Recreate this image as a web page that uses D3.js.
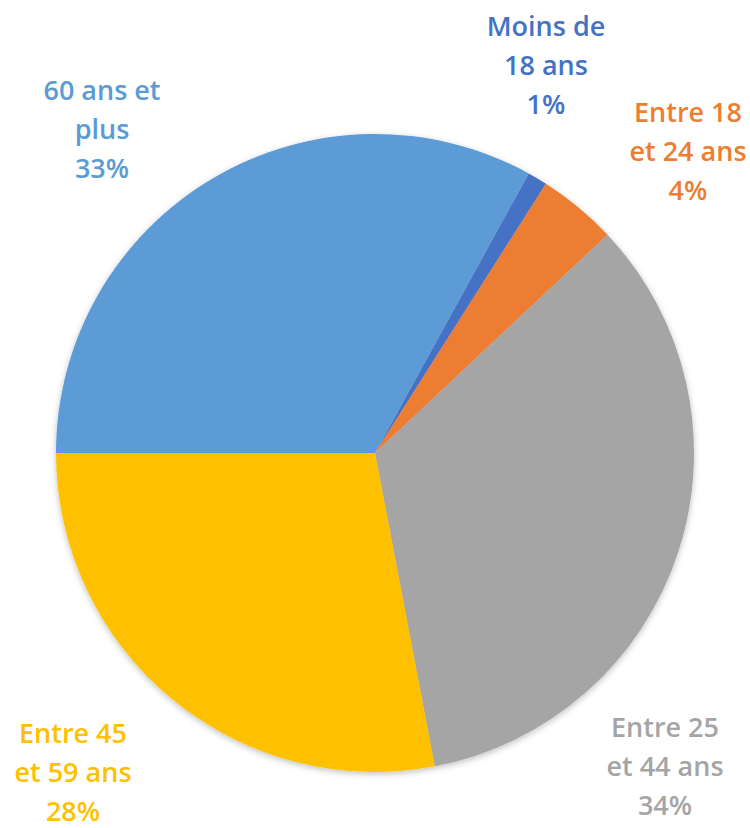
<!DOCTYPE html>
<html><head><meta charset="utf-8">
<script src="https://cdn.jsdelivr.net/npm/d3@7"></script>
<style>body{margin:0;background:#fff}</style>
</head><body>
<svg id="c" width="750" height="828"></svg>
<script>
const categories = ["Moins de 18 ans", "Entre 18 et 24 ans", "Entre 25 et 44 ans", "Entre 45 et 59 ans", "60 ans et plus"];
const values = [1, 4, 34, 28, 33];
const labelLines = [["Moins de", "18 ans", "1%"], ["Entre 18", "et 24 ans", "4%"], ["Entre 25", "et 44 ans", "34%"], ["Entre 45", "et 59 ans", "28%"], ["60 ans et", "plus", "33%"]];
const colors = ["#4472C4", "#ED7D31", "#A5A5A5", "#FFC000", "#5B9BD5"];
const labelPos = [[546, 25], [688, 111], [665, 726], [73, 732], [102, 89]];

const svg = d3.select("#c");
const cx = 375, cy = 453, r = 319;
const defs = svg.append("defs");
const f = defs.append("filter").attr("id", "sh").attr("x", "-10%").attr("y", "-10%").attr("width", "120%").attr("height", "120%");
f.append("feDropShadow").attr("dx", 0).attr("dy", 2).attr("stdDeviation", 3).attr("flood-color", "#000").attr("flood-opacity", 0.25);

const start = 28.8 * Math.PI / 180;
const pie = d3.pie().sort(null).value(d => d).startAngle(start).endAngle(start + 2 * Math.PI);
const arc = d3.arc().innerRadius(0).outerRadius(r);
const g = svg.append("g").attr("transform", `translate(${cx},${cy})`).attr("filter", "url(#sh)");
g.selectAll("path").data(pie(values)).join("path")
  .attr("d", arc).attr("fill", (d, i) => colors[i]);

const lg = svg.append("g").attr("font-family", "'Open Sans', sans-serif")
  .attr("font-size", 27).attr("font-weight", 600).attr("text-anchor", "middle");
categories.forEach((c, i) => {
  const t = lg.append("text").attr("fill", colors[i]).attr("x", labelPos[i][0]).attr("y", labelPos[i][1]).attr("dominant-baseline", "central");
  labelLines[i].forEach((s, j) => t.append("tspan").attr("x", labelPos[i][0]).attr("dy", j === 0 ? 0 : 39).text(s));
});
</script>
</body></html>
